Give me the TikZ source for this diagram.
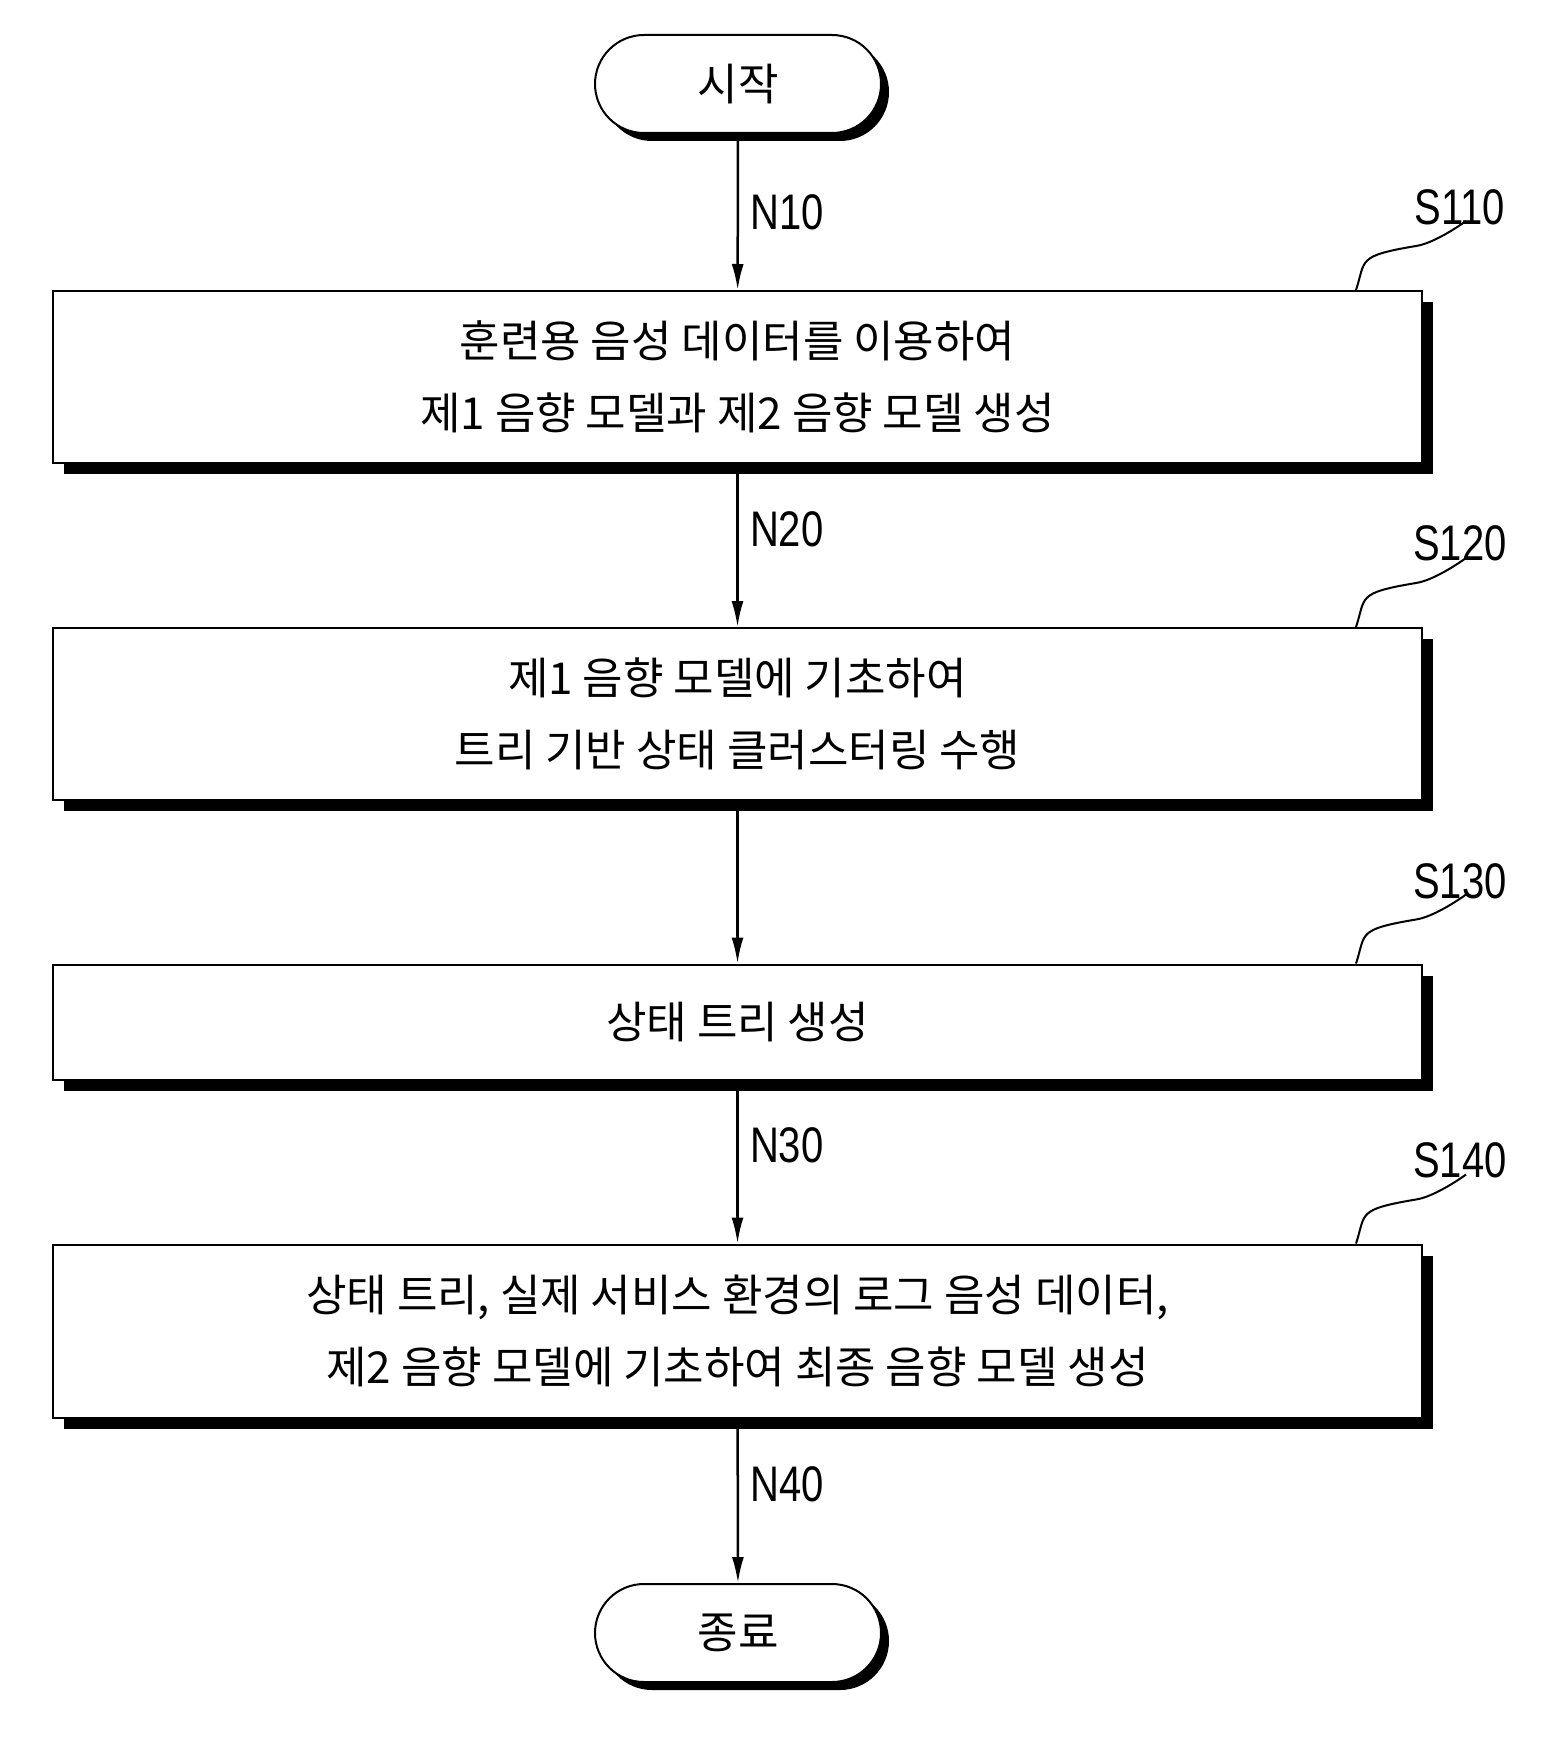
\documentclass[tikz,border=0pt]{standalone}
\usepackage{fontspec}
\setmainfont{Liberation Sans}
\newfontfamily\kr{Noto Sans CJK KR}
\usetikzlibrary{shadows,arrows.meta}
\begin{document}
\begin{tikzpicture}[x=1pt,y=-1pt,
process/.style={rectangle, draw=black, line width=2pt, fill=white, minimum width=1369pt, align=center, font=\kr\fontsize{44}{72}\selectfont,
  drop shadow={shadow xshift=11pt, shadow yshift=-11pt, fill=black, opacity=1}},
term/.style={rectangle, rounded corners=49pt, draw=black, line width=2pt, fill=white, minimum width=286pt, minimum height=98pt, font=\kr\fontsize{44}{50}\selectfont,
  drop shadow={shadow xshift=8pt, shadow yshift=-8pt, fill=black, opacity=1}},
flow/.style={line width=2.5pt, -{Latex[length=26pt, width=12pt]}},
tag/.style={font=\fontsize{50}{50}\selectfont\addfontfeature{FakeStretch=0.8}},
lead/.style={line width=2pt},
]
\useasboundingbox (0,0) rectangle (1563,1744);
\node[term] (start) at (738,84) {시작};
\node[process, minimum height=172pt] (p110) at (737.5,377) {훈련용 음성 데이터를 이용하여\\제1 음향 모델과 제2 음향 모델 생성};
\node[process, minimum height=172pt] (p120) at (737.5,714) {제1 음향 모델에 기초하여\\트리 기반 상태 클러스터링 수행};
\node[process, minimum height=115pt] (p130) at (737.5,1022) {상태 트리 생성};
\node[process, minimum height=173pt] (p140) at (737.5,1331) {상태 트리, 실제 서비스 환경의 로그 음성 데이터,\\제2 음향 모델에 기초하여 최종 음향 모델 생성};
\node[term] (end) at (738,1633) {종료};
% connectors
\draw[flow] (start) -- node[tag, right=8pt] {N10} (p110);
\draw[flow] (p110) -- node[tag, right=8pt, pos=0.4] {N20} (p120);
\draw[flow] (p120) -- (p130);
\draw[flow] (p130) -- node[tag, right=8pt, pos=0.4] {N30} (p140);
\draw[flow] (p140) -- node[tag, right=8pt, pos=0.4] {N40} (end);
% step labels
\foreach \s/\y in {110/207, 120/543, 130/881, 140/1160} {
  \node[tag] (t\s) at (1460,\y) {S\s};
  \draw[lead] ([xshift=-67pt]p\s.north east) .. controls +(10,-30) and +(-60,10) .. ++(60,-44) .. controls +(20,-3) and +(0,0) .. ++(50,-25);
}
\end{tikzpicture}
\end{document}
